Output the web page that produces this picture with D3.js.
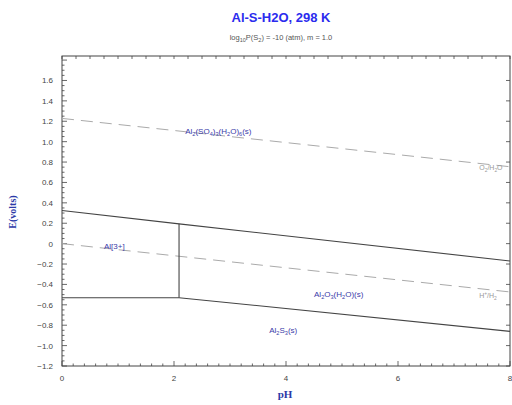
<!DOCTYPE html>
<html><head><meta charset="utf-8">
<script src="https://cdn.jsdelivr.net/npm/d3@7"></script>
<style>body{margin:0;background:#fff}svg{display:block}</style>
</head><body><svg id="c" width="512" height="405"></svg>
<script>
const xTickLabels = [0, 2, 4, 6, 8];
const yTickLabels = [1.6, 1.4, 1.2, 1.0, 0.8, 0.6, 0.4, 0.2, 0, -0.2, -0.4, -0.6, -0.8, -1.0, -1.2];
const waterUpper = [[0, 1.228], [8, 0.754]];
const waterLower = [[0, 0.0], [8, -0.474]];
const boundaryUpper = [[0, 0.325], [2.09, 0.194], [8, -0.17]];
const boundaryVertical = [[2.09, 0.194], [2.09, -0.53]];
const boundaryAl3 = [[0, -0.53], [2.09, -0.53]];
const boundaryLower = [[2.09, -0.53], [8, -0.86]];
const regionLabels = [
  {pH: 2.2, E: 1.1, parts: [["Al",0],["2",1],["(SO",0],["4",1],[")",0],["3",1],["(H",0],["2",1],["O)",0],["6",1],["(s)",0]]},
  {pH: 0.75, E: -0.02, parts: [["Al[3+]",0]]},
  {pH: 4.5, E: -0.49, parts: [["Al",0],["2",1],["O",0],["3",1],["(H",0],["2",1],["O)(s)",0]]},
  {pH: 3.7, E: -0.85, parts: [["Al",0],["2",1],["S",0],["3",1],["(s)",0]]}
];
const waterLabels = [
  {pH: 7.45, E: 0.75, parts: [["O",0],["2",1],["/H",0],["2",1],["O",0]]},
  {pH: 7.45, E: -0.5, parts: [["H",0],["+",2],["/H",0],["2",1]]}
];

const svg = d3.select("#c");
const L = 62, R = 510, T = 56, B = 366;
const x = d3.scaleLinear().domain([0, 8]).range([L, R]);
const y = d3.scaleLinear().domain([-1.2, 1.84]).range([B, T]);
const font = "Liberation Sans, Arial, sans-serif";

// title
svg.append("text").attr("x", 281).attr("y", 22).attr("text-anchor", "middle")
  .attr("font-family", font).attr("font-size", 13).attr("font-weight", "bold")
  .attr("fill", "#2b2bee").text("Al-S-H2O, 298 K");
const sub = svg.append("text").attr("x", 281).attr("y", 40).attr("text-anchor", "middle")
  .attr("font-family", font).attr("font-size", 7.5).attr("fill", "#555");
sub.append("tspan").text("log");
sub.append("tspan").attr("font-size", 5.5).attr("dy", 2).text("10");
sub.append("tspan").attr("dy", -2).text("P(S");
sub.append("tspan").attr("font-size", 5.5).attr("dy", 2).text("2");
sub.append("tspan").attr("dy", -2).text(") = -10 (atm), m = 1.0");

// frame
svg.append("rect").attr("x", L).attr("y", T).attr("width", R - L).attr("height", B - T)
  .attr("fill", "none").attr("stroke", "#444").attr("stroke-width", 1);

// ticks
const g = svg.append("g").attr("stroke", "#444").attr("stroke-width", 0.8);
d3.range(0, 8.0001, 0.2).forEach(v => {
  const major = Math.abs(v / 2 - Math.round(v / 2)) < 1e-6;
  g.append("line").attr("x1", x(v)).attr("x2", x(v)).attr("y1", B).attr("y2", B - (major ? 5 : 2.5));
});
d3.range(0, 8.0001, 0.25).forEach(v => {
  g.append("line").attr("x1", x(v)).attr("x2", x(v)).attr("y1", T).attr("y2", T + 3);
});
d3.range(-1.2, 1.8001, 0.05).forEach(v => {
  const major = Math.abs(v / 0.2 - Math.round(v / 0.2)) < 1e-6;
  g.append("line").attr("x1", L).attr("x2", L + (major ? 5 : 2.5)).attr("y1", y(v)).attr("y2", y(v));
});
yTickLabels.forEach(v => {
  g.append("line").attr("x1", R).attr("x2", R - 4).attr("y1", y(v)).attr("y2", y(v));
});

// tick labels
svg.append("g").selectAll("text").data(xTickLabels).join("text")
  .attr("x", d => x(d)).attr("y", B + 15).attr("text-anchor", "middle")
  .attr("font-family", font).attr("font-size", 8).attr("fill", "#444").text(d => d);
svg.append("g").selectAll("text").data(yTickLabels).join("text")
  .attr("x", L - 9).attr("y", d => y(d) + 3).attr("text-anchor", "end")
  .attr("font-family", font).attr("font-size", 8).attr("fill", "#444")
  .text(d => d === 0 ? "0" : d3.format(".1f")(d));

// axis titles
svg.append("text").attr("x", 285).attr("y", 398).attr("text-anchor", "middle")
  .attr("font-family", "Liberation Serif, Times New Roman, serif").attr("font-size", 11)
  .attr("font-weight", "bold").attr("fill", "#2b3aa8").text("pH");
svg.append("text").attr("transform", "translate(16,212) rotate(-90)").attr("text-anchor", "middle")
  .attr("font-family", "Liberation Serif, Times New Roman, serif").attr("font-size", 10)
  .attr("font-weight", "bold").attr("fill", "#2b3aa8").text("E(volts)");

const line = d3.line().x(d => x(d[0])).y(d => y(d[1]));
// water lines
[waterUpper, waterLower].forEach(d => {
  svg.append("path").attr("d", line(d)).attr("fill", "none")
    .attr("stroke", "#aaa").attr("stroke-width", 1).attr("stroke-dasharray", "12,7");
});
// boundaries
[boundaryUpper, boundaryVertical, boundaryAl3, boundaryLower].forEach(d => {
  svg.append("path").attr("d", line(d)).attr("fill", "none")
    .attr("stroke", "#444").attr("stroke-width", 1.1);
});

function addLabel(lbl, color, size) {
  const t = svg.append("text").attr("x", x(lbl.pH)).attr("y", y(lbl.E) + 3)
    .attr("font-family", font).attr("font-size", size).attr("fill", color);
  let cur = 0;
  lbl.parts.forEach(([s, k]) => {
    const target = k === 1 ? 2 : k === 2 ? -3 : 0;
    t.append("tspan").attr("dy", target - cur).attr("font-size", k ? size * 0.7 : size).text(s);
    cur = target;
  });
}
regionLabels.forEach(l => addLabel(l, "#3a3aa8", 8));
waterLabels.forEach(l => addLabel(l, "#999", 7));
</script></body></html>
